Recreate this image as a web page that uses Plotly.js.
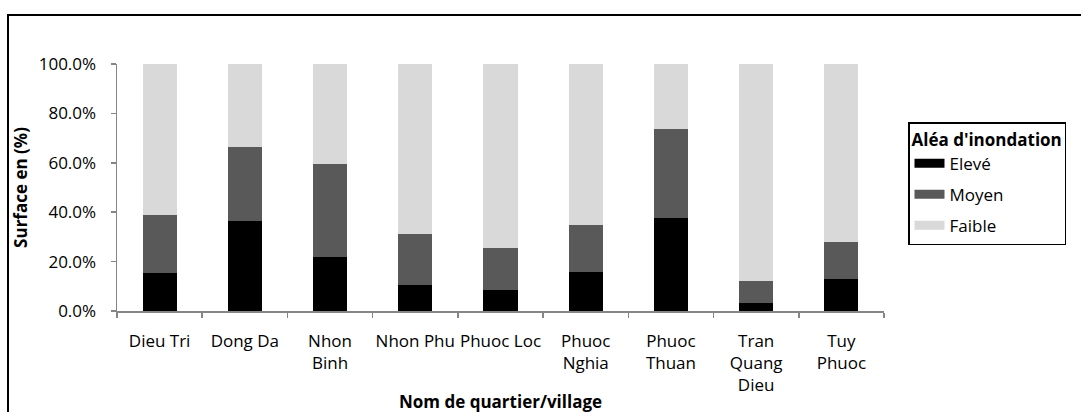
<!DOCTYPE html>
<html>
<head>
<meta charset="utf-8">
<script src="https://cdn.plot.ly/plotly-3.0.1.min.js"></script>
<style>html,body{margin:0;padding:0;background:#fff;}#chart{width:1081px;height:412px;}</style>
</head>
<body>
<div id="chart"></div>
<script>
const categories = ["Dieu Tri", "Dong Da", "Nhon<br>Binh", "Nhon Phu", "Phuoc Loc", "Phuoc<br>Nghia", "Phuoc<br>Thuan", "Tran<br>Quang<br>Dieu", "Tuy<br>Phuoc"];
const eleve  = [15.3, 36.6, 22.0, 10.4, 8.6, 15.9, 37.8, 3.1, 12.8];
const moyen  = [23.7, 29.7, 37.6, 20.8, 16.9, 18.9, 35.8, 9.2, 15.1];
const faible = [61.0, 33.7, 40.4, 68.8, 74.5, 65.2, 26.4, 87.7, 72.1];
const seriesNames = ["Elevé", "Moyen", "Faible"];
const seriesColors = ["#000000", "#595959", "#d9d9d9"];
const legendTitle = "Aléa d'inondation";
const yTitle = "Surface en (%)";
const xTitle = "Nom de quartier/village";

const FONT = "Open Sans, DejaVu Sans, sans-serif";
const FS = 17;
const values = [eleve, moyen, faible];
const traces = [];
values.forEach((v, i) => {
  traces.push({
    type: "bar", x: categories, y: v, name: seriesNames[i],
    marker: {color: seriesColors[i], line: {width: 0}},
    width: 0.4, showlegend: false, hoverinfo: "x+y+name"
  });
});
values.forEach((v, i) => {
  traces.push({
    type: "scatter", mode: "lines", x: [null], y: [null], name: seriesNames[i],
    line: {color: seriesColors[i], width: 9}, legendgroup: "g" + i, showlegend: true
  });
});

const L = 117, R = 884, T = 64, B = 311, W = 1081, H = 412;
const pw = R - L, ph = B - T;
const px = x => (x - L) / pw;
const py = y => (B - y) / ph;

const layout = {
  width: W, height: H,
  margin: {l: L, r: W - R, t: T, b: H - B, pad: 0},
  paper_bgcolor: "#ffffff", plot_bgcolor: "#ffffff",
  font: {family: FONT, size: FS, color: "#000"},
  barmode: "stack",
  showlegend: true,
  xaxis: {
    type: "category", range: [-0.5, 8.5], tickson: "boundaries",
    ticks: "outside", ticklen: 5, tickwidth: 1.5, tickcolor: "#868686",
    showline: true, linecolor: "#868686", linewidth: 1.5,
    showgrid: false, zeroline: false, tickangle: 0,
    ticklabelstandoff: 14,
    tickfont: {family: FONT, size: FS, color: "#000"}, fixedrange: true
  },
  yaxis: {
    range: [0, 100], dtick: 20, tick0: 0, tickformat: ".1f", ticksuffix: "%",
    ticks: "outside", ticklen: 5, tickwidth: 1.5, tickcolor: "#868686",
    showline: true, linecolor: "#868686", linewidth: 1.5,
    showgrid: false, zeroline: false, ticklabelstandoff: 11,
    tickfont: {family: FONT, size: FS, color: "#000"},
    title: {text: "<b>" + yTitle + "</b>", font: {family: FONT, size: FS, color: "#000"}, standoff: 6},
    fixedrange: true
  },
  legend: {
    x: px(908), xanchor: "left", y: py(122), yanchor: "top",
    bgcolor: "#ffffff", bordercolor: "#000000", borderwidth: 1.5,
    font: {family: FONT, size: FS, color: "#000"},
    title: {text: "<b>" + legendTitle + "</b>", font: {family: FONT, size: FS, color: "#000"}},
    traceorder: "grouped", tracegroupgap: 6, itemwidth: 30
  },
  annotations: [{
    xref: "paper", yref: "paper", x: 0.5, y: py(401), xanchor: "center", yanchor: "middle",
    text: "<b>" + xTitle + "</b>", showarrow: false,
    font: {family: FONT, size: FS, color: "#000"}
  }],
  shapes: [{
    type: "rect", xref: "paper", yref: "paper",
    x0: px(8), x1: px(1095), y0: py(430), y1: py(15),
    line: {color: "#000000", width: 2}, fillcolor: "rgba(0,0,0,0)", layer: "below"
  }]
};

Plotly.newPlot("chart", traces, layout, {displayModeBar: false, staticPlot: true});
</script>
</body>
</html>
